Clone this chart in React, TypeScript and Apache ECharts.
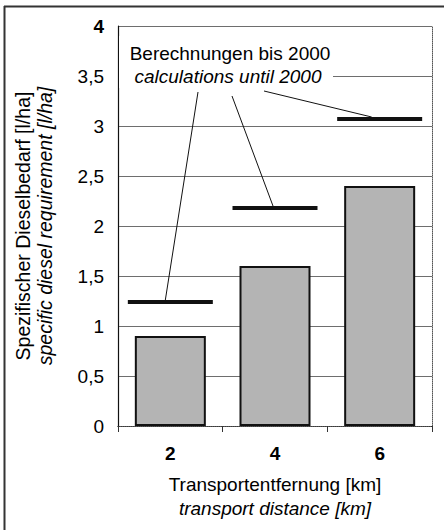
import React, { useEffect, useRef } from "react";
import * as echarts from "echarts";

const categories = ["2", "4", "6"];
const dieselValues = [0.9, 1.6, 2.4];
const calc2000Values = [1.24, 2.18, 3.07];
const yMin = 0;
const yMax = 4;
const yInterval = 0.5;
const noteLine1 = "Berechnungen bis 2000";
const noteLine2 = "calculations until 2000";
const xTitle1 = "Transportentfernung [km]";
const xTitle2 = "transport distance [km]";
const yTitle1 = "Spezifischer Dieselbedarf [l/ha]";
const yTitle2 = "specific diesel requirement [l/ha]";

const FONT = "'Liberation Sans', Arial, sans-serif";
const INK = "#000";

export default function App() {
  const ref = useRef<HTMLDivElement>(null);

  useEffect(() => {
    document.body.style.margin = "0";
    if (!ref.current) return;
    const chart = echarts.init(ref.current, undefined, { renderer: "svg" });
    const option: any = {
      animation: false,
      backgroundColor: "#ffffff",
      textStyle: { fontFamily: FONT },
      grid: { left: 118, right: 12, top: 26, bottom: 104 },
      xAxis: [
        {
          type: "category",
          data: categories,
          position: "bottom",
          axisLine: { lineStyle: { color: "#111", width: 1.2 } },
          axisTick: { show: true, alignWithLabel: false, length: 6, lineStyle: { color: "#333" } },
          axisLabel: { color: INK, fontSize: 19, fontWeight: "bold", margin: 18, fontFamily: FONT },
          name: `{a|${xTitle1}}\n{b|${xTitle2}}`,
          nameLocation: "middle",
          nameGap: 46,
          nameTextStyle: {
            rich: {
              a: { fontSize: 19, color: INK, fontFamily: FONT, lineHeight: 24 },
              b: { fontSize: 19, color: INK, fontStyle: "italic", fontFamily: FONT, lineHeight: 24 },
            },
          },
        },
        {
          type: "category",
          data: categories,
          position: "top",
          axisLine: { show: true, lineStyle: { color: "#555", width: 1, type: "dotted" } },
          axisTick: { show: false },
          axisLabel: { show: false },
        },
      ],
      yAxis: [
        {
          type: "value",
          min: yMin,
          max: yMax,
          interval: yInterval,
          axisLine: { show: true, lineStyle: { color: "#111", width: 1.2 } },
          axisTick: { show: false },
          splitLine: { show: true, lineStyle: { color: "#6e6e6e", width: 1 } },
          axisLabel: {
            color: INK,
            fontSize: 19,
            margin: 14,
            fontFamily: FONT,
            formatter: (v: number) =>
              v === yMax ? `{bold|${v}}` : String(v).replace(".", ","),
            rich: { bold: { fontWeight: "bold", fontSize: 19, color: INK, fontFamily: FONT } },
          },
          name: `{a|${yTitle1}}\n{b|${yTitle2}}`,
          nameLocation: "middle",
          nameRotate: 90,
          nameGap: 62,
          nameTextStyle: {
            rich: {
              a: { fontSize: 19.5, color: INK, fontFamily: FONT, lineHeight: 22 },
              b: { fontSize: 19.5, color: INK, fontStyle: "italic", fontFamily: FONT, lineHeight: 22 },
            },
          },
        },
        {
          type: "value",
          min: yMin,
          max: yMax,
          interval: yInterval,
          position: "right",
          axisLine: { show: true, lineStyle: { color: "#555", width: 1, type: "dotted" } },
          axisTick: { show: false },
          axisLabel: { show: false },
          splitLine: { show: false },
        },
      ],
      series: [
        {
          type: "bar",
          data: dieselValues,
          barWidth: 71,
          itemStyle: { color: "#b4b4b4", borderColor: "#111", borderWidth: 2 },
          z: 2,
        },
        {
          type: "scatter",
          data: calc2000Values,
          symbol: "rect",
          symbolSize: [85, 4],
          itemStyle: { color: "#111", opacity: 1 },
          z: 4,
        },
      ],
    };
    chart.setOption(option);

    const starts = [
      [198, 92],
      [232, 96],
      [264, 91],
    ];
    const endOffsets = [
      [-5, -2],
      [-2, -2],
      [-8, -2],
    ];
    const leaders = calc2000Values.map((v, i) => {
      const p = chart.convertToPixel({ seriesIndex: 1 }, [i, v]) as number[];
      return {
        type: "line",
        shape: {
          x1: starts[i][0],
          y1: starts[i][1],
          x2: p[0] + endOffsets[i][0],
          y2: p[1] + endOffsets[i][1],
        },
        style: { stroke: "#111", lineWidth: 1 },
        z: 5,
      };
    });

    chart.setOption({
      graphic: [
        {
          type: "line",
          shape: { x1: 4.5, y1: 6, x2: 4.5, y2: 530 },
          style: { stroke: "#333", lineWidth: 2 },
          z: 10,
        },
        {
          type: "line",
          shape: { x1: 4, y1: 6.5, x2: 444, y2: 6.5 },
          style: { stroke: "#333", lineWidth: 2 },
          z: 10,
        },
        {
          type: "rect",
          shape: { x: 119, y: 36, width: 214, height: 52 },
          style: { fill: "#ffffff" },
          z: 3,
        },
        {
          type: "text",
          x: 230,
          y: 53,
          style: {
            text: noteLine1,
            fontSize: 19,
            fontFamily: FONT,
            fill: INK,
            textAlign: "center",
            textVerticalAlign: "middle",
          },
          z: 6,
        },
        {
          type: "text",
          x: 228,
          y: 76,
          style: {
            text: noteLine2,
            fontSize: 19,
            fontStyle: "italic",
            fontFamily: FONT,
            fill: INK,
            textAlign: "center",
            textVerticalAlign: "middle",
          },
          z: 6,
        },
        ...leaders,
      ],
    });

    return () => chart.dispose();
  }, []);

  return <div ref={ref} style={{ width: 444, height: 530 }} />;
}
